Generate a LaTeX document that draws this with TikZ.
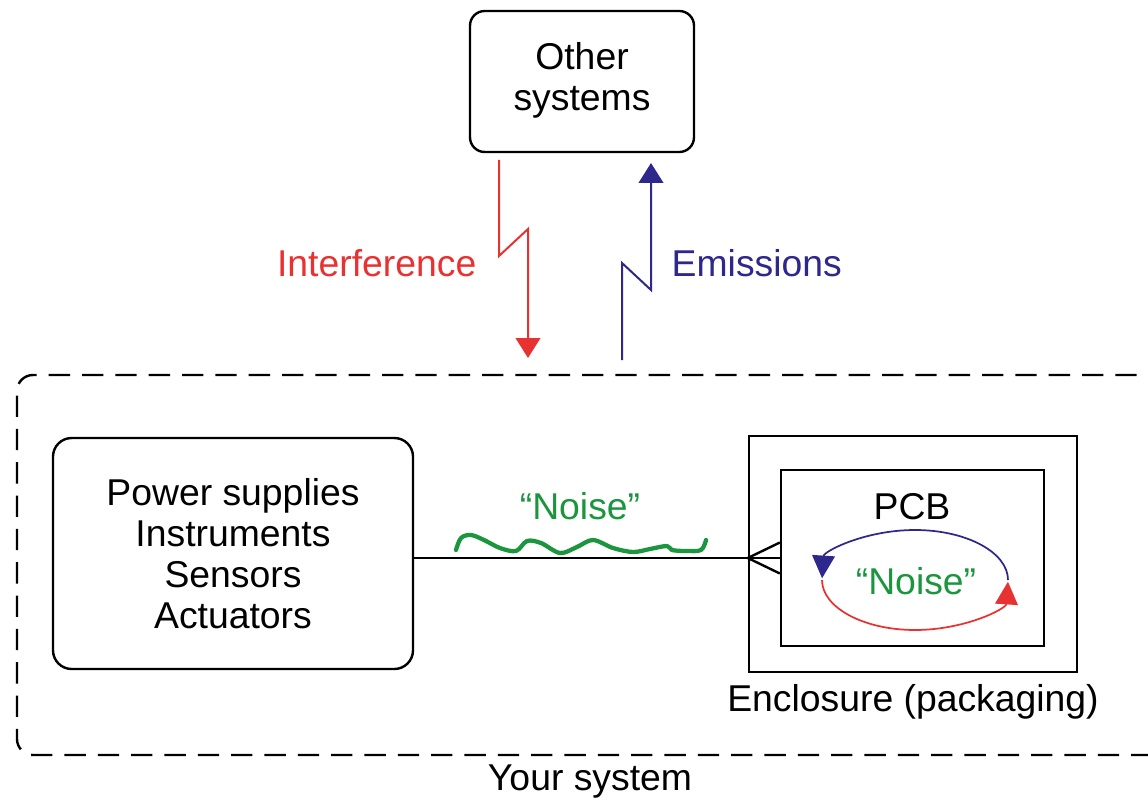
\documentclass[tikz,border=0pt]{standalone}
\usepackage{fontspec}
\setmainfont{Liberation Sans}
\usetikzlibrary{arrows.meta}
\definecolor{intred}{RGB}{232,50,50}
\definecolor{emiblue}{RGB}{46,40,140}
\definecolor{noisegreen}{RGB}{28,150,62}

\begin{document}
\begin{tikzpicture}[x=0.75pt,y=0.75pt,yscale=-1,xscale=1,
    every node/.style={font=\fontsize{28}{30.75}\selectfont},
    roundbox/.style={draw, line width=1.8pt, align=center, inner sep=0pt},
    squarebox/.style={draw, line width=1.8pt, inner sep=0pt},
    zigline/.style={line width=1.5pt, -{Triangle[length=15pt,width=18.5pt]}},
    looparc/.style={line width=1.3pt, -{Triangle[length=17pt,width=17pt]}}
]
\useasboundingbox (0,0) rectangle (1148,802);

%Shape: Rounded boxes
\node [roundbox, rounded corners=11pt, minimum width=168pt, minimum height=105.75pt] (other) at (582,81.5) {\raisebox{-3pt}{\begin{tabular}{@{}c@{}}Other\\systems\end{tabular}}};
\node [roundbox, rounded corners=14pt, minimum width=270pt, minimum height=173.25pt] (power) at (233,553.5) {Power supplies\\Instruments\\Sensors\\Actuators};

%Shape: Enclosure and PCB
\node [squarebox, minimum width=246pt, minimum height=177pt] (encl) at (913,554) {};
\node [squarebox, minimum width=197.25pt, minimum height=132pt] (pcb) at (912.5,558) {};

%Shape: Your system (dashed)
\draw [line width=1.8pt, dash pattern=on 16pt off 9pt, rounded corners=12pt] (1170,375) -- (17,375) -- (17,755) -- (1170,755);

%Interference and emissions
\coordinate (inttop) at (499,160);
\coordinate (intend) at (528,358);
\coordinate (emibot) at (622,360);
\coordinate (emiend) at (651,163);
\draw [zigline, intred] (inttop) -- (499,256) -- (528,229) -- (intend);
\draw [zigline, emiblue] (emibot) -- (622,263) -- (651,290) -- (emiend);

%Straight Lines: link to PCB
\draw [line width=1.8pt] (power.east |- pcb.west) -- (pcb.west);
\draw [line width=1.8pt] ([yshift=11.6pt]pcb.west) -- (encl.west |- pcb.west) -- ([yshift=-11.6pt]pcb.west);

%Green noise squiggle
\draw [noisegreen, line width=3.2pt, line cap=round, line join=round] plot [smooth, tension=0.55] coordinates {(456,550) (461,538) (471,535) (484,540) (500,548) (516,551) (527,541) (541,543) (560,553) (577,547) (593,540) (613,548) (633,552) (650,549) (667,546) (672,550) (686,551) (701,550) (706,540)};

%Noise loop on the PCB
\draw [looparc, emiblue] (1008,580) arc [start angle=0, end angle=-178, x radius=93, y radius=50];
\draw [looparc, intred] (822,580) arc [start angle=180, end angle=2, x radius=93, y radius=50];

% Text Node
\node [intred, anchor=east] (intlabel) at (481,263) {Interference};
% Text Node
\node [emiblue, anchor=west] (emilabel) at (667,263) {Emissions};
% Text Node
\node [noisegreen] (noiselabel) at (580,506) {“Noise”};
% Text Node
\node (pcblabel) at (912,507) {PCB};
% Text Node
\node [noisegreen] (pcbnoise) at (916,581) {“Noise”};
% Text Node
\node (encllabel) at (913,702) {Enclosure (packaging)};
% Text Node
\node (syslabel) at (590,782) {Your system};

\end{tikzpicture}
\end{document}
